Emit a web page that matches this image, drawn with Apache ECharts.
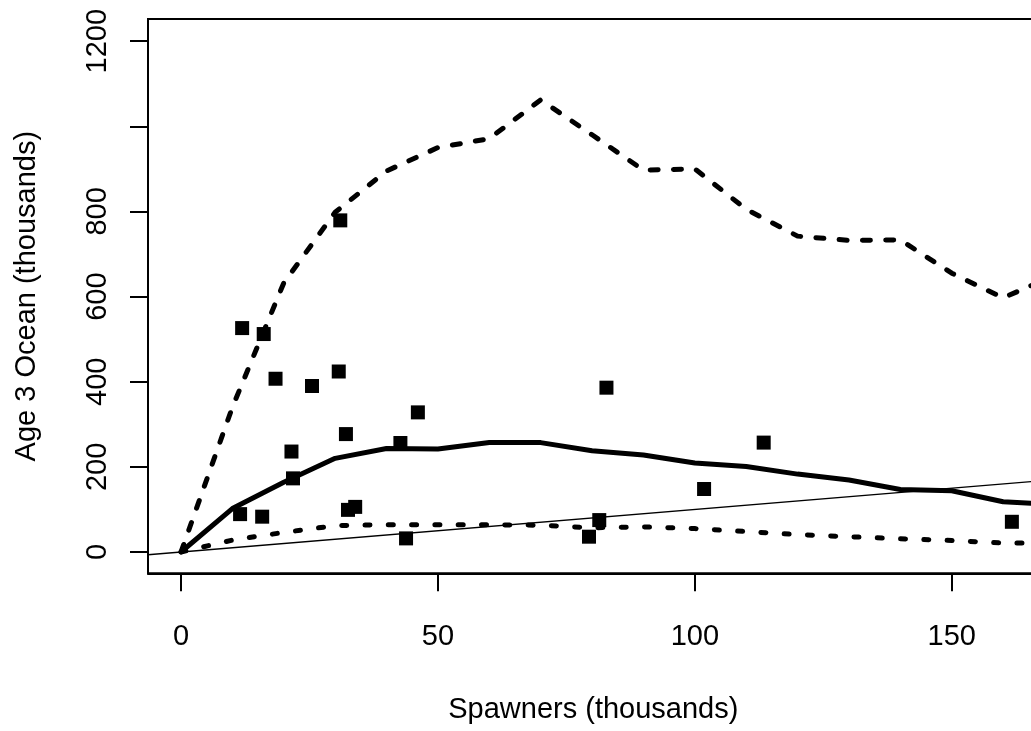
<!DOCTYPE html>
<html>
<head>
<meta charset="utf-8">
<script src="https://cdn.jsdelivr.net/npm/echarts@6/dist/echarts.min.js"></script>
<style>
  html, body { margin: 0; padding: 0; background: #fff; }
  #chart { width: 1031px; height: 731px; }
</style>
</head>
<body>
<div id="chart"></div>
<script>
// spawner grid the fitted curves are evaluated on
var fitX = [0, 10, 20, 30, 40, 50, 60, 70, 80, 90, 100, 110, 120, 130, 140, 150, 160, 170];
var fitMid = [0, 102, 164, 220, 243, 242, 257, 257, 238, 228, 209, 201, 183, 169, 147, 144, 118, 112];
var fitUpper = [0, 340, 632, 798, 895, 950, 971, 1062, 980, 897, 900, 805, 742, 732, 733, 655, 597, 650];
var fitLower = [0, 28, 46, 62, 64, 64, 64, 63, 57, 59, 55, 48, 41, 36, 31, 27, 21, 21];

// observations
var spawners = [11.9, 16.1, 18.4, 25.5, 30.7, 31.0, 32.1, 21.5, 21.8, 11.5, 15.8, 32.5, 33.9, 42.7, 46.1, 43.8, 82.8, 101.8, 81.4, 79.4, 113.4, 161.7];
var recruits = [526, 512, 407, 390, 424, 779, 277, 236, 173, 89, 83, 99, 106, 256, 328, 32, 386, 148, 75, 36, 257, 71];

// axes
var xMin = -6.42, xMax = 166.9;
var yMin = -50, yMax = 1252;
var xTicks = [0, 50, 100, 150];
var yTicks = [0, 200, 400, 600, 800, 1000, 1200];
var yLabels = [0, 200, 400, 600, 800, 1200];

var font = "'Liberation Sans', Arial, Helvetica, sans-serif";

function pairs(xs, ys) {
  return xs.map(function (x, i) { return [x, ys[i]]; });
}

function plain(v) { return String(v); }

var chart = echarts.init(document.getElementById('chart'), null, { renderer: 'canvas' });

chart.setOption({
  animation: false,
  backgroundColor: '#fff',
  grid: {
    left: 148,
    top: 19,
    width: 890.6,
    height: 554.3,
    outerBoundsMode: 'none',
    show: true,
    borderColor: '#000',
    borderWidth: 2,
    backgroundColor: 'transparent'
  },
  xAxis: {
    type: 'value',
    min: xMin,
    max: xMax,
    name: 'Spawners (thousands)',
    nameLocation: 'middle',
    nameGap: 122,
    nameTextStyle: { fontFamily: font, fontSize: 29, color: '#000' },
    axisLine: { show: true, onZero: false, lineStyle: { color: '#000', width: 2 } },
    axisTick: { show: true, length: 18, customValues: xTicks, lineStyle: { color: '#000', width: 2 } },
    axisLabel: { customValues: xTicks, formatter: plain, margin: 49, fontFamily: font, fontSize: 29, color: '#000' },
    splitLine: { show: false }
  },
  yAxis: {
    type: 'value',
    min: yMin,
    max: yMax,
    name: 'Age 3 Ocean (thousands)',
    nameLocation: 'middle',
    nameRotate: 90,
    nameGap: 107,
    nameTextStyle: { fontFamily: font, fontSize: 29, color: '#000' },
    axisLine: { show: true, onZero: false, lineStyle: { color: '#000', width: 2 } },
    axisTick: { show: true, length: 18, customValues: yTicks, lineStyle: { color: '#000', width: 2 } },
    axisLabel: { customValues: yLabels, formatter: plain, rotate: 90, margin: 36, fontFamily: font, fontSize: 29, color: '#000' },
    splitLine: { show: false }
  },
  series: [
    {
      type: 'scatter',
      data: pairs(spawners, recruits),
      symbol: 'rect',
      symbolSize: 14,
      itemStyle: { color: '#000', opacity: 1 },
      z: 2
    },
    {
      type: 'line',
      data: [[xMin, xMin], [xMax, xMax]],
      showSymbol: false,
      lineStyle: { color: '#000', width: 1.4 },
      z: 3
    },
    {
      type: 'line',
      data: pairs(fitX, fitMid),
      showSymbol: false,
      lineStyle: { color: '#000', width: 5, join: 'round' },
      z: 4
    },
    {
      type: 'line',
      data: pairs(fitX, fitUpper),
      showSymbol: false,
      lineStyle: { color: '#000', width: 5, type: [8, 15.3], cap: 'round', join: 'round' },
      z: 4
    },
    {
      type: 'line',
      data: pairs(fitX, fitLower),
      showSymbol: false,
      lineStyle: { color: '#000', width: 5, type: [5, 18.3], cap: 'round', join: 'round' },
      z: 4
    }
  ]
});
</script>
</body>
</html>
